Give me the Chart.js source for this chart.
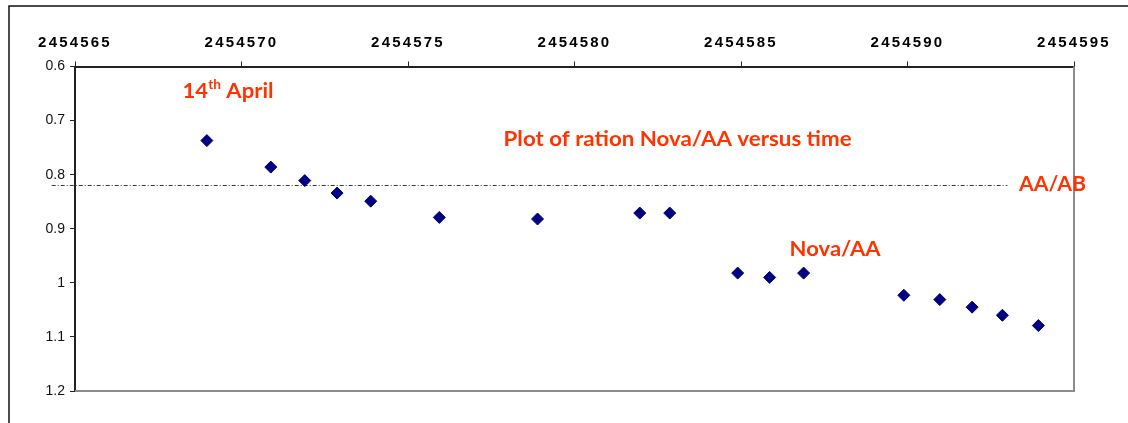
<!DOCTYPE html>
<html>
<head>
<meta charset="utf-8">
<script src="https://cdn.jsdelivr.net/npm/chart.js@4.4.1/dist/chart.umd.min.js"></script>
<style>
  html, body { margin: 0; padding: 0; background: #fff; }
</style>
</head>
<body>
<canvas id="chart" width="1128" height="423"></canvas>
<script>
// Julian date of each observation
var jd = [2454568.96, 2454570.88, 2454571.90, 2454572.87, 2454573.88, 2454575.94,
          2454578.89, 2454581.96, 2454582.86, 2454584.90, 2454585.86, 2454586.88,
          2454589.89, 2454590.97, 2454591.94, 2454592.85, 2454593.93];
// ratio Nova/AA
var ratio = [0.737, 0.786, 0.811, 0.834, 0.849, 0.879,
             0.882, 0.871, 0.871, 0.982, 0.990, 0.982,
             1.023, 1.031, 1.045, 1.060, 1.079];
// AA/AB reference level and where the line was drawn
var refLevel = 0.82;
var refSpan = [2454564.3, 2454593.0];

var xTicks = [2454565, 2454570, 2454575, 2454580, 2454585, 2454590, 2454595];
var yTicks = [0.6, 0.7, 0.8, 0.9, 1, 1.1, 1.2];
var yTickLabels = ['0.6', '0.7', '0.8', '0.9', '1', '1.1', '1.2'];

var noteLabels = ['Plot of ration Nova/AA versus time', 'AA/AB', 'Nova/AA'];

var red = '#ff3300';
var navy = '#000080';

// notes placed in data units (left edge, baseline), width in px to fit
var notes = [
  { parts: [{ t: '14' }, { t: 'th', sup: true }, { t: ' April' }], x: 2454568.23, y: 0.659, w: 91 },
  { parts: [{ t: noteLabels[0] }], x: 2454577.87, y: 0.747, w: 348 },
  { parts: [{ t: noteLabels[1] }], x: 2454593.35, y: 0.830, w: 67 },
  { parts: [{ t: noteLabels[2] }], x: 2454586.46, y: 0.951, w: 91 }
];

var framePlugin = {
  id: 'frame',
  beforeDraw: function(chart) {
    var ctx = chart.ctx;
    ctx.save();
    ctx.fillStyle = '#fff';
    ctx.fillRect(0, 0, chart.width, chart.height);
    ctx.strokeStyle = '#111';
    ctx.lineWidth = 1.5;
    ctx.beginPath();
    ctx.moveTo(9, chart.height + 2);
    ctx.lineTo(9, 6);
    ctx.lineTo(chart.width + 2, 6);
    ctx.stroke();
    ctx.restore();

    // spaced-out digits on the top axis
    var sx = chart.scales.x;
    if (sx && !sx._spaced) {
      var orig = sx.drawLabels;
      sx.drawLabels = function(area) {
        this.ctx.save();
        this.ctx.letterSpacing = '2.2px';
        orig.call(this, area);
        this.ctx.restore();
      };
      sx._spaced = true;
    }
  },
  beforeDatasetsDraw: function(chart) {
    var ctx = chart.ctx, a = chart.chartArea;
    ctx.save();
    ctx.strokeStyle = '#8c8c8c';
    ctx.lineWidth = 2;
    ctx.beginPath();
    ctx.moveTo(a.left, a.bottom);
    ctx.lineTo(a.right, a.bottom);
    ctx.lineTo(a.right, a.top);
    ctx.stroke();
    ctx.restore();
  }
};

var notesPlugin = {
  id: 'notes',
  afterDraw: function(chart) {
    var ctx = chart.ctx, sx = chart.scales.x, sy = chart.scales.y;
    var big = 'bold 21px Lato', small = 'bold 13px Lato';
    ctx.save();
    ctx.fillStyle = red;
    ctx.textBaseline = 'alphabetic';
    ctx.textAlign = 'left';
    notes.forEach(function(n) {
      var total = 0;
      n.parts.forEach(function(p) {
        ctx.font = p.sup ? small : big;
        p.mw = ctx.measureText(p.t).width;
        total += p.mw;
      });
      var k = n.w / total;
      var px = sx.getPixelForValue(n.x), py = sy.getPixelForValue(n.y);
      ctx.save();
      ctx.translate(px, py);
      ctx.scale(k, 1);
      var cx = 0;
      n.parts.forEach(function(p) {
        ctx.font = p.sup ? small : big;
        ctx.fillText(p.t, cx, p.sup ? -9 : 0);
        cx += p.mw;
      });
      ctx.restore();
    });
    ctx.restore();
  }
};

var points = jd.map(function(d, i) { return { x: d, y: ratio[i] }; });

new Chart(document.getElementById('chart'), {
  type: 'scatter',
  data: {
    datasets: [{
      label: 'Nova/AA',
      data: points,
      pointStyle: 'rectRot',
      pointRadius: 6,
      pointHoverRadius: 6,
      borderWidth: 1,
      backgroundColor: navy,
      borderColor: navy
    }, {
      type: 'line',
      label: 'AA/AB',
      data: refSpan.map(function(d) { return { x: d, y: refLevel }; }),
      borderColor: '#333',
      borderWidth: 1,
      borderDash: [4, 2, 1, 2],
      pointRadius: 0,
      fill: false,
      clip: false
    }]
  },
  options: {
    responsive: false,
    animation: false,
    devicePixelRatio: 1,
    layout: { padding: { left: 0, top: 0, right: 54, bottom: 32 } },
    plugins: { legend: { display: false }, tooltip: { enabled: false } },
    scales: {
      x: {
        type: 'linear',
        position: 'top',
        min: 2454565,
        max: 2454595,
        afterBuildTicks: function(s) { s.ticks = xTicks.map(function(v) { return { value: v }; }); },
        afterFit: function(s) { s.height = 66.5; },
        grid: { drawOnChartArea: false, tickLength: 5, color: '#222', lineWidth: 1 },
        border: { display: true, color: '#222', width: 2 },
        ticks: {
          padding: 10,
          maxRotation: 0,
          color: '#000',
          font: { family: 'Liberation Sans, Arial', size: 15, weight: 'bold' },
          callback: function(v) { return String(v); }
        }
      },
      y: {
        reverse: true,
        min: 0.6,
        max: 1.2,
        afterBuildTicks: function(s) { s.ticks = yTicks.map(function(v) { return { value: v }; }); },
        afterFit: function(s) { s.width = 75; },
        grid: { drawOnChartArea: false, tickLength: 5, color: '#222', lineWidth: 1 },
        border: { display: true, color: '#222', width: 2 },
        ticks: {
          padding: 5,
          color: '#111',
          font: { family: 'Liberation Sans, Arial', size: 14 },
          callback: function(v) { return yTickLabels[yTicks.indexOf(v)]; }
        }
      }
    }
  },
  plugins: [framePlugin, notesPlugin]
});
</script>
</body>
</html>
